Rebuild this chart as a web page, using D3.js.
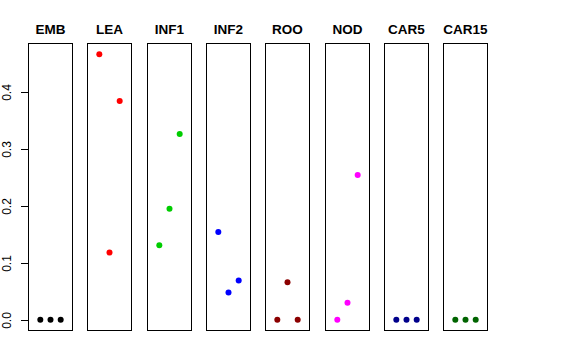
<!DOCTYPE html>
<html>
<head>
<meta charset="utf-8">
<script src="https://cdn.jsdelivr.net/npm/d3@7"></script>
<style>
  body { margin: 0; background: #fff; }
  text { font-family: "Liberation Sans", Arial, sans-serif; }
</style>
</head>
<body>
<script>
var width = 576;
var height = 360;

// one panel per tissue, three points each (x = 1, 2, 3)
var categories = ["EMB", "LEA", "INF1", "INF2", "ROO", "NOD", "CAR5", "CAR15"];
var colors = ["#000000", "#FF0000", "#00CD00", "#0000FF", "#8B0000", "#FF00FF", "#00008B", "#006400"];
var xs = [1, 2, 3];
var emb = [0, 0, 0];
var lea = [0.466, 0.118, 0.384];
var inf1 = [0.131, 0.195, 0.326];
var inf2 = [0.154, 0.048, 0.069];
var roo = [0, 0.066, 0];
var nod = [0, 0.030, 0.254];
var car5 = [0, 0, 0];
var car15 = [0, 0, 0];
var series = [emb, lea, inf1, inf2, roo, nod, car5, car15];
var yTicks = [0, 0.1, 0.2, 0.3, 0.4];
var yTickLabels = ["0.0", "0.1", "0.2", "0.3", "0.4"];

var svg = d3.select("body")
    .append("svg")
    .attr("width", width)
    .attr("height", height);

var band = d3.scaleBand()
    .domain(categories)
    .range([28.5, 488.1])
    .paddingInner(0.25)
    .paddingOuter(0);

// R style 4% padding around data range
var ymax = d3.max(series, function(s) { return d3.max(s); });
var ymin = 0;
var pad = (ymax - ymin) * 0.04;
var y = d3.scaleLinear()
    .domain([ymin - pad, ymax + pad])
    .range([330.5, 43.5]);

var xpad = 4 * 0.04;

categories.forEach(function(cat, i) {
    var x0 = Math.floor(band(cat)) + 0.5;
    var bw = Math.round(band.bandwidth());
    var x = d3.scaleLinear()
        .domain([0 - xpad, 4 + xpad])
        .range([x0, x0 + bw]);

    var g = svg.append("g");

    g.append("rect")
        .attr("x", x0)
        .attr("y", 43.5)
        .attr("width", bw)
        .attr("height", 287)
        .attr("fill", "none")
        .attr("stroke", "#000")
        .attr("stroke-width", 1);

    g.selectAll("circle")
        .data(series[i])
        .enter()
        .append("circle")
        .attr("cx", function(d, j) { return x(xs[j]); })
        .attr("cy", function(d) { return y(d); })
        .attr("r", 3)
        .attr("fill", colors[i]);

    svg.append("text")
        .attr("x", x0 + bw / 2)
        .attr("y", 34)
        .attr("text-anchor", "middle")
        .style("font-size", "13.5px")
        .style("font-weight", "bold")
        .text(cat);
});

// shared y axis on the left of the first panel
var axis = svg.append("g");
var ax = Math.floor(band(categories[0])) + 0.5;
yTicks.forEach(function(t, i) {
    var ty = Math.round(y(t)) + 0.5;
    axis.append("line")
        .attr("x1", ax - 7.5)
        .attr("x2", ax)
        .attr("y1", ty)
        .attr("y2", ty)
        .attr("stroke", "#000");
    axis.append("text")
        .attr("transform", "translate(10.5," + ty + ") rotate(-90)")
        .attr("text-anchor", "middle")
        .style("font-size", "12px")
        .text(yTickLabels[i]);
});
</script>
</body>
</html>
